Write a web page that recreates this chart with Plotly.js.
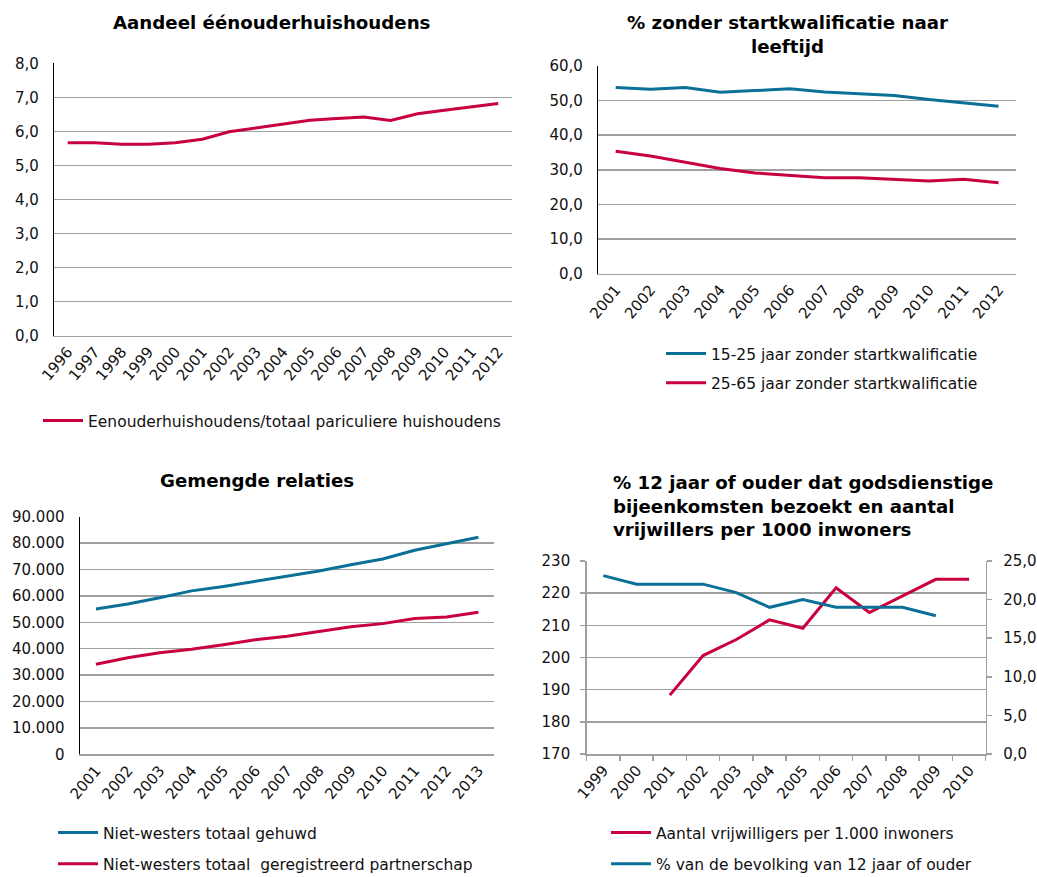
<!DOCTYPE html>
<html>
<head>
<meta charset="utf-8">
<script src="https://cdn.plot.ly/plotly-3.0.1.min.js"></script>
<style>html,body{margin:0;padding:0;background:#fff;overflow:hidden;}#chart{width:1037px;height:877px;}</style>
</head>
<body>
<div id="chart"></div>
<script>
// ---------- data ----------
const years1 = ['1996','1997','1998','1999','2000','2001','2002','2003','2004','2005','2006','2007','2008','2009','2010','2011','2012'];
const eenouder = [5.67,5.67,5.62,5.62,5.67,5.77,5.99,6.11,6.22,6.33,6.38,6.42,6.32,6.52,6.62,6.72,6.82];

const years2 = ['2001','2002','2003','2004','2005','2006','2007','2008','2009','2010','2011','2012'];
const jong15_25 = [53.8,53.3,53.8,52.4,52.9,53.4,52.5,52.1,51.5,50.3,49.3,48.4];
const oud25_65 = [35.4,34.0,32.2,30.4,29.1,28.5,27.7,27.7,27.3,26.8,27.3,26.3];

const years3 = ['2001','2002','2003','2004','2005','2006','2007','2008','2009','2010','2011','2012','2013'];
const gehuwd = [55000,56900,59300,61900,63600,65500,67400,69400,71800,74000,77300,79800,82200];
const partnerschap = [34100,36600,38500,39800,41500,43400,44700,46500,48300,49500,51400,52000,53800];

const years4 = ['1999','2000','2001','2002','2003','2004','2005','2006','2007','2008','2009','2010'];
const vrijwilligers = [null,null,188.3,200.6,205.6,211.7,209.1,221.7,214.0,219.2,224.3,224.3];
const kerkbezoek = [23.1,22.0,22.0,22.0,20.9,19.0,20.0,19.0,19.0,19.0,17.9,null];

const names = {
  eenouder: 'Eenouderhuishoudens/totaal pariculiere huishoudens',
  jong: '15-25 jaar zonder startkwalificatie',
  oud: '25-65 jaar zonder startkwalificatie',
  gehuwd: 'Niet-westers totaal gehuwd',
  partner: 'Niet-westers totaal  geregistreerd partnerschap',
  vrijw: 'Aantal vrijwilligers per 1.000 inwoners',
  kerk: '% van de bevolking van 12 jaar of ouder'
};
const titles = {
  t1: 'Aandeel éénouderhuishoudens',
  t2: '% zonder startkwalificatie naar<br>leeftijd',
  t3: 'Gemengde relaties',
  t4: '% 12 jaar of ouder dat godsdienstige<br>bijeenkomsten bezoekt en aantal<br>vrijwillers per 1000 inwoners'
};

// ---------- styles ----------
const RED = '#C8003E', BLUE = '#0A7098', GRID = '#a0a0a0';
const FONT = 'DejaVu Sans, Verdana, sans-serif';
const W = 1037, H = 877;
const px = v => v / W, py = v => 1 - v / H;

function ln(color) { return {color: color, width: 3}; }

const traces = [
  {x: years1, y: eenouder, name: names.eenouder, type: 'scatter', mode: 'lines', line: ln(RED), xaxis: 'x', yaxis: 'y', legend: 'legend'},
  {x: years2, y: jong15_25, name: names.jong, type: 'scatter', mode: 'lines', line: ln(BLUE), xaxis: 'x2', yaxis: 'y2', legend: 'legend2', legendgroup: 'a'},
  {x: years2, y: oud25_65, name: names.oud, type: 'scatter', mode: 'lines', line: ln(RED), xaxis: 'x2', yaxis: 'y2', legend: 'legend2', legendgroup: 'b'},
  {x: years3, y: gehuwd, name: names.gehuwd, type: 'scatter', mode: 'lines', line: ln(BLUE), xaxis: 'x3', yaxis: 'y3', legend: 'legend3', legendgroup: 'c'},
  {x: years3, y: partnerschap, name: names.partner, type: 'scatter', mode: 'lines', line: ln(RED), xaxis: 'x3', yaxis: 'y3', legend: 'legend3', legendgroup: 'd'},
  {x: years4, y: vrijwilligers, name: names.vrijw, type: 'scatter', mode: 'lines', line: ln(RED), xaxis: 'x4', yaxis: 'y4', legend: 'legend4', legendgroup: 'e', connectgaps: false},
  {x: years4, y: kerkbezoek, name: names.kerk, type: 'scatter', mode: 'lines', line: ln(BLUE), xaxis: 'x4', yaxis: 'y5', legend: 'legend4', legendgroup: 'f', connectgaps: false}
];

const tickFont = {family: FONT, size: 15, color: '#111'};

function xax(dom, anchor, n, extra) {
  return Object.assign({
    domain: dom, anchor: anchor, type: 'category', range: [-0.5, n - 0.5],
    showgrid: false, zeroline: false, showline: true, linecolor: GRID, linewidth: 1.5,
    tickangle: -50, tickfont: tickFont, ticks: '', fixedrange: true, automargin: false
  }, extra || {});
}
function yax(dom, anchor, range, dtick, fmt, extra) {
  return Object.assign({
    domain: dom, anchor: anchor, range: range, dtick: dtick, tickformat: fmt,
    showgrid: true, gridcolor: GRID, gridwidth: 1.5, zeroline: false,
    showline: true, linecolor: '#000', linewidth: 1.5, ticks: '', ticklabelstandoff: 11,
    tickfont: tickFont, fixedrange: true, automargin: false
  }, extra || {});
}

const legendBase = {
  font: {family: FONT, size: 15.5, color: '#111'}, bgcolor: 'rgba(0,0,0,0)',
  orientation: 'v', xanchor: 'left', yanchor: 'top', tracegroupgap: 8, itemwidth: 40
};

const titleFont = {family: FONT, size: 18.2, color: '#000', weight: 'bold'};

const layout = {
  width: W, height: H, margin: {l: 0, r: 0, t: 0, b: 0, autoexpand: false},
  paper_bgcolor: '#fff', plot_bgcolor: '#fff',
  separators: ',.',
  showlegend: true,
  xaxis: xax([px(54.3), px(511.7)], 'y', years1.length),
  yaxis: yax([py(335.7), py(63.3)], 'x', [0, 8], 1, '.1f'),
  xaxis2: xax([px(598.3), px(1016)], 'y2', years2.length),
  yaxis2: yax([py(273.7), py(66)], 'x2', [0, 60], 10, '.1f'),
  xaxis3: xax([px(80), px(494.3)], 'y3', years3.length),
  yaxis3: yax([py(754.3), py(516.7)], 'x3', [0, 90000], 10000, ',d'),
  xaxis4: xax([px(586.7), px(985.7)], 'y4', years4.length,
    {ticks: 'outside', tickson: 'boundaries', ticklen: 5, tickcolor: GRID, tickwidth: 1.5, showline: true, mirror: false}),
  yaxis4: yax([py(754), py(561)], 'x4', [170, 230], 10, 'd',
    {linecolor: GRID, ticks: 'outside', ticklen: 5, tickcolor: GRID, tickwidth: 1.5, ticklabelstandoff: 7}),
  yaxis5: {
    overlaying: 'y4', anchor: 'x4', side: 'right', range: [0, 25], dtick: 5, tickformat: '.1f',
    showgrid: false, zeroline: false, showline: true, linecolor: GRID, linewidth: 1.5,
    ticks: 'outside', ticklen: 5, tickcolor: GRID, tickwidth: 1.5, ticklabelstandoff: 8,
    tickfont: tickFont, fixedrange: true, automargin: false
  },
  legend: Object.assign({}, legendBase, {x: px(38), y: py(404)}),
  legend2: Object.assign({}, legendBase, {x: px(661), y: py(337), tracegroupgap: 6}),
  legend3: Object.assign({}, legendBase, {x: px(53), y: py(816)}),
  legend4: Object.assign({}, legendBase, {x: px(606), y: py(816)}),
  annotations: [
    {text: titles.t1, xref: 'paper', yref: 'paper', x: px(271), y: py(22), xanchor: 'center', yanchor: 'middle', showarrow: false, font: titleFont},
    {text: titles.t2, xref: 'paper', yref: 'paper', x: px(787), y: py(34), xanchor: 'center', yanchor: 'middle', showarrow: false, font: titleFont, align: 'center'},
    {text: titles.t3, xref: 'paper', yref: 'paper', x: px(257), y: py(480), xanchor: 'center', yanchor: 'middle', showarrow: false, font: titleFont},
    {text: titles.t4, xref: 'paper', yref: 'paper', x: px(611), y: py(506), xanchor: 'left', yanchor: 'middle', showarrow: false, font: titleFont, align: 'left'}
  ]
};

Plotly.newPlot('chart', traces, layout, {displayModeBar: false, staticPlot: true});
</script>
</body>
</html>
